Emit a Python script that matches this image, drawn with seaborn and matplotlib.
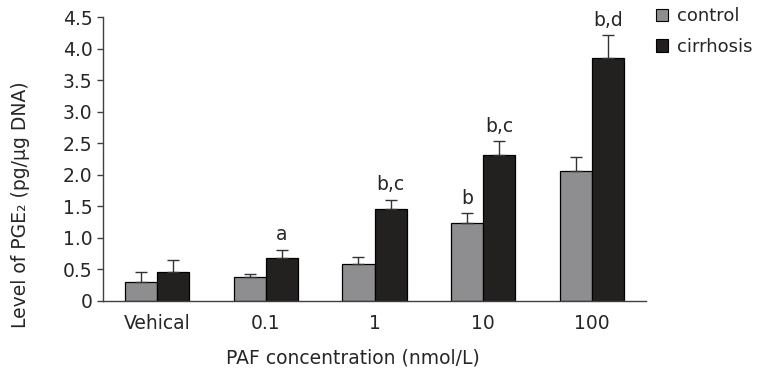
import numpy as np
import pandas as pd
import matplotlib
matplotlib.use("Agg")
import matplotlib.pyplot as plt
import seaborn as sns

# Values
concentrations = ["Vehical", "0.1", "1", "10", "100"]
control_mean = [0.30, 0.38, 0.58, 1.23, 2.06]
control_sd = [0.15, 0.04, 0.12, 0.16, 0.23]
cirrhosis_mean = [0.46, 0.68, 1.46, 2.31, 3.86]
cirrhosis_sd = [0.18, 0.13, 0.14, 0.22, 0.36]
cirrhosis_marks = ["", "a", "b,c", "b,c", "b,d"]
control_marks = ["", "", "", "b", ""]

df = pd.DataFrame({
    "conc": concentrations * 2,
    "value": control_mean + cirrhosis_mean,
    "group": ["control"] * 5 + ["cirrhosis"] * 5,
})

sns.set_style("white")
plt.rcParams["font.family"] = ["DejaVu Sans"]
plt.rcParams["font.size"] = 13.5

fig = plt.figure(figsize=(7.62, 3.72), dpi=100)
ax = fig.add_axes([0.135, 0.192, 0.713, 0.761])

sns.barplot(data=df, x="conc", y="value", hue="group", order=concentrations,
            hue_order=["control", "cirrhosis"], palette=["#8e8e90", "#231f20"],
            width=0.59, edgecolor="black", linewidth=0.9, errorbar=None,
            legend=False, ax=ax)

# one-sided error bars + significance letters
for container, sds, marks in zip(ax.containers, [control_sd, cirrhosis_sd],
                                 [control_marks, cirrhosis_marks]):
    xs = [b.get_x() + b.get_width() / 2 for b in container]
    hs = [b.get_height() for b in container]
    ax.errorbar(xs, hs, yerr=[np.zeros(len(sds)), sds], fmt="none",
                ecolor="#333333", elinewidth=1.0, capsize=4, capthick=1.0)
    for x, h, s, m in zip(xs, hs, sds, marks):
        if m:
            ax.annotate(m, (x, h + s), xytext=(0, 4), textcoords="offset points",
                        ha="center", va="bottom", fontsize=13.5)

ax.set_xlim(-0.5, 4.5)
ax.set_ylim(0, 4.5)
ax.set_yticks(np.arange(0, 4.51, 0.5))
ax.set_yticklabels(["0"] + [f"{v:.1f}" for v in np.arange(0.5, 4.51, 0.5)])
ax.set_xticks(np.arange(0.5, 4.6, 1), minor=True)
ax.tick_params(axis="x", which="major", length=0, pad=10)
ax.tick_params(axis="x", which="minor", direction="in", length=5, color="#404040", width=1)
ax.tick_params(axis="y", direction="out", length=4, color="#404040", width=1, left=True)

for side in ["top", "right"]:
    ax.spines[side].set_visible(False)
for side in ["left", "bottom"]:
    ax.spines[side].set_color("#404040")
    ax.spines[side].set_linewidth(1.0)

ax.set_xlabel("PAF concentration (nmol/L)")
ax.set_ylabel("Level of PGE\u2082 (pg/\u03bcg DNA)")
ax.xaxis.set_label_coords(0.46, -0.17)
ax.yaxis.set_label_coords(-0.135, 0.34)

handles = [plt.Rectangle((0, 0), 1, 1, facecolor=c, edgecolor="black", linewidth=0.8)
           for c in ["#8e8e90", "#231f20"]]
fig.legend(handles, ["control", "cirrhosis"], loc="upper left",
           bbox_to_anchor=(0.858, 0.985), frameon=False, handlelength=0.7,
           handleheight=0.7, handletextpad=0.5, labelspacing=0.7,
           borderpad=0.1, borderaxespad=0, fontsize=13)

fig.savefig("out.png", dpi=100)
